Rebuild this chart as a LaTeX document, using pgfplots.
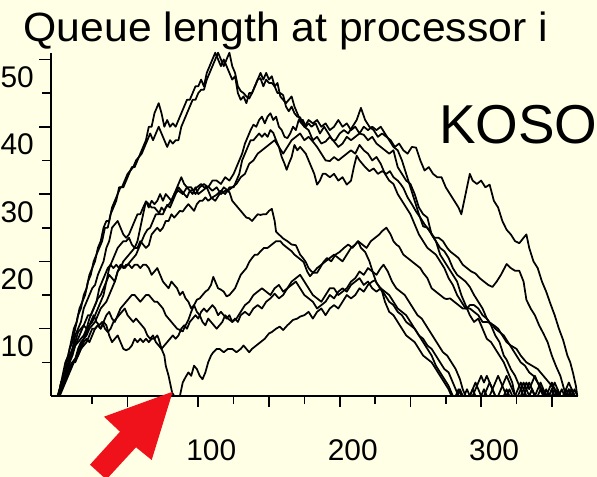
\documentclass[border=0pt]{standalone}
\usepackage{pgfplots}
\pgfplotsset{compat=1.18}
\usepackage{fontspec}
\setmainfont{Liberation Sans}
\definecolor{bg}{RGB}{255,255,230}
\definecolor{arrowred}{RGB}{240,18,26}
\pgfplotsset{qline/.style={black, line width=1.75bp, line join=round, mark=none}}
\begin{document}
\begin{tikzpicture}[x=1bp,y=1bp]
\fill[bg] (0,0) rectangle (597,477);
\useasboundingbox (0,0) rectangle (597,477);
\begin{scope}
\clip (0,0) rectangle (597,477);
\begin{axis}[
 at={(50.5bp,81bp)}, anchor=south west,
 scale only axis, width=527.5bp, height=343.3bp,
 xmin=-4.5, xmax=368.5, ymin=0, ymax=51,
 axis lines*=left, axis line style={line width=2bp, -},
 clip=false,
 xtick={50,100,...,350}, xticklabels={,100,,200,,300,},
 minor xtick={25,75,...,375},
 ytick={10,20,...,50}, yticklabels={10,20,30,40,50},
 minor ytick={5,15,...,45},
 tick align=outside,
 major tick length=11bp, minor tick length=8bp,
 tick style={line width=1.6bp, black},
 ticklabel style={font=\fontsize{30}{30}\selectfont},
 xticklabel style={anchor=north, inner sep=0pt, xshift=13bp, yshift=-32bp},
 yticklabel style={anchor=north east, inner sep=0pt, xshift=-5.5bp, yshift=-7bp},
]
% A
\addplot[qline] coordinates {(1,0)(3,2)(5,3)(7,5)(9,7)(11,8)(13,10)(15,12)(17,13)(19,15)(21,16)(23,18)(25,19)(27,20)(29,22)(31,23)(33,25)(35,26)(37,26)(39,28)(41,29)(43,30)(45,31)(47,31)(49,32)(51,33)(53,34)(55,34)(57,35)(59,36)(61,37)(63,38)(65,40)(67,40)(69,42)(71,43)(72,43.5)(74,42)(76,40)(78,41)(80,40)(82,40.5)(84,40)(86,41)(88,42)(90,43)(92,44)(94,44)(96,45)(98,46)(100,46)(102,47)(104,46)(106,48)(108,49)(110,50)(112,51)(114,50)(116,49)(118,50)(120,49)(122,48)(124,47)(126,47.5)(128,45)(130,44)(132,44.5)(134,43.5)(136,45)(138,45)(140,46)(142,47)(144,48)(146,47)(148,48)(150,47)(152,47.5)(154,46)(156,46.5)(158,44.5)(160,44)(162,43.5)(164,44)(166,44.5)(168,43)(170,42)(172,41)(174,41)(176,40)(178,40.5)(180,40)(183,40.5)(186,39)(189,40)(192,39)(195,38)(197,38)(200,39)(203,39.5)(206,39)(209,40)(212,41)(215,42.8)(218,41)(221,40)(224,39.5)(227,38.5)(230,39)(233,38.5)(236,38)(239,37)(242,37.5)(245,36.5)(248,36)(251,37)(254,36.9)(257,35)(260,33.5)(263,34)(266,33)(269,32.5)(272,32.5)(275,31)(278,30)(281,29)(284,28)(286,27)(288,29)(290,31)(292,33)(294,32)(297,31.5)(300,32)(303,31)(306,31.4)(309,29)(312,28)(315,26)(318,24.7)(321,24)(324,23)(327,22.7)(330,23.5)(332,24)(334,22)(337,20)(340,19)(343,17)(346,15.5)(349,13.7)(352,12)(355,10)(358,8.3)(361,6)(363,5)(365,3.4)(367,1.5)(368,0)};
% B
\addplot[qline] coordinates {(0.5,0)(2,1)(4,3)(6,5)(8,6)(10,8)(12,10)(14,11)(16,13)(18,14)(20,15)(22,17)(24,18)(26,20)(28,21)(30,22)(32,23)(34,25)(36,25)(38,27)(40,28)(42,29)(44,31)(46,31)(48,32)(50,33)(52,33.5)(54,34)(56,35)(58,35.5)(60,36)(62,37)(64,38)(66,39)(68,38)(70,39)(72,40)(74,39)(76,38)(78,37)(80,38)(82,37.5)(84,38)(86,38)(88,40)(90,41)(92,42)(94,43)(96,44)(98,44)(100,45)(102,45.5)(104,45.5)(106,47)(108,48)(110,49)(112,50)(114,51)(116,50)(118,49)(120,50)(122,51)(124,49)(126,48)(128,46)(130,45.3)(132,45)(134,44.5)(136,44.2)(138,45)(140,46)(142,47)(144,47.2)(146,46)(148,47)(150,46.5)(152,46.5)(154,46)(156,45)(158,45)(160,44.7)(162,43)(164,42.3)(166,43)(168,42)(170,41.5)(172,41.4)(175,40)(178,41)(181,40.5)(184,41)(187,40)(190,40.5)(193,39.5)(196,40)(199,41)(202,40)(205,40.5)(208,39.5)(211,40)(214,39)(217,40)(220,39.5)(223,40)(226,39.5)(229,40)(232,39)(235,38)(238,37)(241,36.5)(244,35)(247,33)(250,31)(253,29)(256,27)(259,25.2)(262,25)(265,24)(268,23)(271,22)(274,21.5)(277,20.5)(280,19)(283,18)(286,17.5)(289,17)(292,16.2)(295,15)(298,14)(301,13)(304,11.5)(307,10.5)(310,9)(313,8)(316,6)(318,5.4)(321,4)(324,3)(327,1.5)(330,0)(334,0)(336,1)(338,0)(346,0)(348,1)(350,2)(352,1)(354,0)(362,0)(364,1)(366,0)(368,0)};
% C
\addplot[qline] coordinates {(1,0)(3,1)(5,3)(7,4)(9,6)(11,7)(13,9)(15,10)(17,11)(19,13)(21,14)(23,15)(25,16)(27,16.5)(29,18)(31,19)(33,20)(35,22)(37,23)(39,25)(41,25.5)(43,26)(45,25)(47,24)(49,23.5)(51,24)(53,25)(55,26)(57,27)(59,27)(61,28)(63,28.9)(65,28)(67,29)(69,28.5)(71,29)(73,30)(75,29)(77,30)(79,29.5)(81,29)(83,30)(86,30.5)(89,30)(92,31)(95,31)(98,30)(101,31)(104,31.5)(107,31)(110,32)(113,32)(116,31.5)(119,32.5)(122,32)(125,33)(127,34)(129,35)(131,36)(133,37.5)(135,38.5)(137,39.5)(139,40.3)(141,40)(143,41)(145,41.5)(147,40.5)(149,41.5)(151,42)(153,41)(155,41.5)(157,40)(159,39.5)(161,38.5)(163,38.3)(165,39)(167,40)(169,39.5)(171,41)(173,40.5)(175,40)(178,39.5)(181,38)(184,38.5)(187,37.5)(190,37.8)(193,38.5)(196,37.8)(199,37)(202,37.5)(205,38.5)(208,38)(211,38.5)(214,39)(217,38.8)(220,38)(223,38.5)(226,37.5)(229,37)(232,36.5)(235,36)(238,36.5)(241,34)(244,33)(247,32)(250,31.5)(253,30)(256,28)(259,27)(262,26.5)(265,24)(268,23)(271,21)(274,20)(277,19)(280,18)(283,17)(286,15)(289,13.5)(292,12)(295,11)(298,11.5)(301,10)(304,8.5)(307,8)(310,7)(313,6)(316,5)(319,3.5)(322,2)(324,0)(328,0)(330,1)(332,2)(334,1)(336,2)(338,3)(340,2)(342,1)(344,0)(350,0)(352,1)(354,0)(358,0)(360,1)(362,0)(368,0)};
% D
\addplot[qline] coordinates {(1.5,0)(3,1)(5,2)(7,3)(9,4)(11,5)(13,5.5)(15,7)(17,8)(19,8.5)(21,9)(23,10)(25,10.5)(27,11)(29,12)(31,13)(33,13.5)(35,14)(37,15)(39,16)(41,17)(43,18.5)(45,19)(47,20)(49,20.5)(51,21)(53,21.5)(55,22)(57,22)(59,23)(61,22.5)(63,22)(65,22.4)(67,24)(69,24.5)(71,25)(73,24.5)(75,25)(77,26)(79,26)(81,27)(83,26.5)(85,27)(87,27.5)(89,27.4)(91,28)(93,28.5)(95,28)(97,27.5)(99,28.5)(101,29)(103,29)(105,29.5)(107,29)(110,29.5)(113,29.9)(116,30.5)(119,30)(122,31)(125,31)(127,32)(129,33)(131,35)(133,36)(135,37)(137,38)(139,38)(141,38.5)(143,39)(145,38.5)(147,39)(149,38.5)(151,39.5)(153,39.1)(155,38)(157,37)(159,35.5)(161,34.5)(162.5,33.6)(164,34.5)(166,35.5)(168,37.3)(170,36.5)(172,37)(174,36.5)(176,36)(178,35)(180,34)(182,33)(184,31.4)(186,32)(188,33)(190,33)(193,32.5)(196,33)(199,32)(202,32.5)(205,31.4)(208,32)(210,34)(212,35.7)(214,35)(216,34.5)(218,34)(221,33.4)(224,33.8)(227,33)(230,33.4)(233,33)(235.5,33.4)(238,32.5)(241,32)(243,31.5)(245,30.9)(248,29.5)(251,28.5)(254,27.4)(257,26.5)(260,25.5)(264,24.4)(267,23.5)(270,23.5)(273,23)(276,22)(278,21.5)(281,21)(284,20.5)(287,19.5)(290,19)(293,18.5)(296,18.2)(299,17.5)(302,17)(305,16.5)(308,16.2)(311,17)(314,18)(318,19.6)(321,19)(324,18.6)(327,18.6)(330,17)(332,14.3)(335,13)(338,12)(341,10.5)(344,9.3)(347,8)(350,6)(353,4.4)(356,3)(358,1.5)(360,0)(364,0)(366,1)(368,0)};
% E
\addplot[qline] coordinates {(0.5,0)(2,1)(4,2)(6,3)(8,4)(10,6)(12,7)(14,8)(16,9)(18,10)(20,11)(22,12)(24,12)(26,13)(28,14)(30,16)(32,17)(34,18)(36,19)(38,19.5)(40,19)(42,19.5)(44,19)(46,19.5)(48,19)(50,19.5)(52,20)(54,20.5)(56,21)(58,22)(60,23)(62,24)(64,24.7)(66,25)(68,26)(70,27)(72,27)(74,28)(76,27.5)(78,28.4)(80,28)(82,29)(84,30)(86,31)(88,30.5)(90,30)(92,29.5)(94,30.5)(96,30)(98,31)(100,30)(103,30.5)(106,31)(109,29.5)(112,29)(115,30)(118,31)(121,30.5)(124,31)(127,31.5)(130,32.5)(133,33)(136,34.5)(139,35)(142,36)(145,36.5)(148,37)(151,37.5)(154,38)(157,37)(160,36)(163,37)(166,38)(169,38.5)(172,39)(175,38)(178,38.5)(181,37.8)(184,37)(187,36)(190,35)(193,34.9)(196,35.5)(199,35)(202,35.5)(205,36)(208,36.5)(211,36)(214,37.3)(217,36.5)(220,36)(223,35)(226,35.5)(229,34.5)(232,33)(235,32)(238,31.5)(241,30)(244,29)(247,28)(250,27)(253,25.5)(256,24)(259,23)(262,22)(265,21.5)(268,21)(271,20)(274,19)(277,17.5)(280,16.5)(283,15)(286,14)(289,13)(292,13)(295,12.5)(298,12)(301,11)(304,11)(307,10.8)(310,10)(313,9.5)(316,9)(319,8)(322,7)(325,6)(328,5)(331,4.5)(334,3.5)(337,3)(340,2)(343,1)(345,0)(348,0)(350,1)(352,0)(358,0)(360,1)(362,2)(364,1)(366,0)(368,0)};
% F
\addplot[qline] coordinates {(1,0)(3,2)(5,3)(7,4)(9,5)(11,6)(13,7.5)(15,8)(17,8.5)(19,9)(21,10)(23,10.5)(25,11)(27,12)(29,13)(31,14)(33,15)(35,17)(37,19)(39,20)(41,21)(43,22)(45,22.5)(47,23)(49,23)(51,23.5)(53,22.5)(55,22)(57,23)(59,25)(61,27)(63,28.9)(65,28.5)(67,28)(69,28)(71,27.5)(73,27)(75,27)(77,28)(79,28.4)(81,29)(83,30)(85,31)(87,32)(88,32.5)(90,31.5)(92,31)(94,30.5)(96.5,30.6)(99,31)(102,31.5)(104,31)(107,31.1)(110,30.5)(113,31)(116,30)(119,30.5)(122,30.3)(124,29)(126,28.5)(128,28)(130,27.5)(132,27)(134,26.5)(136,26.4)(138,26)(140,26.5)(142,27)(144,26.9)(146,27)(148,27)(150,27.5)(152,27.8)(154,26)(155,24.4)(157,24)(160,23.4)(163,23)(166,22.5)(169,22.4)(172,21)(174,20.5)(176,19.9)(178,19)(180,18.5)(182,18.3)(184,18.3)(186,19)(188.5,19.9)(191,20.5)(194,20)(197,21)(200,21.4)(203,22)(206,22.5)(209,22)(211,22.5)(213,23)(215,22)(218,21.4)(221,20)(224,18)(226,16.8)(229,16)(232,15.5)(235,15)(238,14)(241,13)(244,12.5)(247,12)(250,11)(253,10)(256,9)(259,8)(262,7)(265,6)(268,4.5)(271,3.5)(274,2.5)(277,1.5)(280,0)(283,0)(285,1)(287,0)(292,0)(294,1)(296,2)(298,1)(300,0)(306,0)(308,1)(310,0)(318,0)(320,1)(322,0)(330,0)(332,1)(334,2)(336,1)(338,0)(344,0)(346,1)(348,0)(355,0)(357,1)(359,0)(368,0)};
% G
\addplot[qline] coordinates {(1,0)(3,1)(5,3)(7,4)(9,4.5)(11,5)(13,5.5)(15,6)(17,7)(19,7.5)(21,8)(23,9)(25,10)(27,10)(29,10.5)(31,10)(33,11)(35,12)(37,12.5)(39,11.5)(41,11)(43,12)(45,13)(47,13.5)(49,14)(51,14.5)(53,15)(55,15)(57,14.5)(59,14)(61,14.5)(63,15)(65,15)(67,14.5)(69,14)(71,14)(73,13.5)(75,13)(77,12)(79,11.5)(81,11)(83,10.5)(85,10)(87,9.8)(89,9.6)(91,10.5)(93,11.3)(95,12.5)(97,13.5)(99,14.3)(101,14.5)(103,15)(105,15.5)(107,15.8)(109,16.5)(110.6,17.7)(112,17)(114,16)(116,15.8)(118,15.5)(120,14.8)(122,15)(124,15.5)(126,16)(128,17)(130,18)(132,18.5)(134,19)(136,19.9)(138,20.5)(140,21)(142,21)(144,21.5)(146.5,22)(149,22)(152,22.5)(155,23)(158,23)(160,22.5)(163,22)(166,21.5)(168,21)(171,20.5)(174.5,19.9)(177,18.5)(179,17.8)(182,18.5)(184,19)(187,19.5)(190,20)(193,20.5)(196,21)(199,20.5)(202,20)(205,21)(208,22)(211,22.5)(213,23)(216,22.5)(219,22)(222,23)(225,23.5)(228,24)(230,24.5)(233,25)(236,24)(238,23)(240,22.5)(242,22.2)(245,21)(248,20.5)(251,20)(254,19.5)(257,19)(259,18.3)(262,17.5)(265,16)(268,15.5)(271,15)(274,14.5)(275.6,14.4)(278,14.5)(281,14)(284,13.5)(287,13)(289.8,13)(292,13.5)(295,13.5)(298,13)(301,12)(304,11.5)(306.5,10.8)(309,10.5)(312,10)(315,9)(318,8)(321,7.5)(325,7)(328,6)(332,5)(336,4.5)(340,4)(344,3)(348,2)(352,1)(356,0)(360,0)(362,1)(364,0)(368,0)};
% J (arrow line)
\addplot[qline] coordinates {(1,0)(3,1)(5,2)(7,3)(9,4)(11,5)(13,5)(15,6)(17,7)(19,8)(21,8.5)(23,8)(25,9)(27,10)(29,10.5)(31,10)(33,11)(35,10.5)(37,9)(39,8)(41,8.5)(43,9)(45,8)(47,7)(49,6.8)(51,7)(53,7.5)(55,8.5)(57,8)(59,8.5)(61,8)(63,8.5)(65,8)(67,8.5)(69,8.5)(71,9)(72,8.5)(74,7)(76,6)(77,4.5)(79,3)(80,2)(81.5,0.5)(83,0)(85,0)(87,0)(89,2)(91,2.8)(93,3.5)(95,3)(97,4.5)(99,4)(101,3)(103,2.5)(105,3.5)(107,5)(109,6)(110.6,6.5)(113,7)(115,7)(118,6.5)(121,7)(124,7)(127,6.5)(130,7)(132,7.5)(134,7)(136,6.5)(138,7)(141,7.5)(144,8)(147,8.5)(150,9.3)(152,9.5)(155,10)(157.6,10.3)(160,9.8)(163,10.5)(167,11.3)(170,11.5)(172,11.8)(175,12)(178,12.5)(181,11.5)(184,12.5)(187,13)(190,12)(193,13)(196,13.5)(199,13)(202,14)(205,15)(208,14.5)(211,15)(214,16)(217,15.5)(220,16.5)(223,17)(225,17.2)(227,16.5)(230,15.5)(232,14)(235,12.5)(238,12)(241,11)(244,10)(247,9)(250,8.5)(253,8)(256,7)(259,6)(262,5.5)(265,5)(268,4)(271,3)(274,2)(277,1)(279,0)(282,0)(284,1)(286,0)(294,0)(296,1)(298,2)(300,3)(302,2)(304,3)(306,2)(308,1)(310,0)(316,0)(318,1)(320,0)(326,0)(328,1)(330,2)(332,1)(334,0)(340,0)(342,1)(344,0)(350,0)(352,1)(354,0)(360,0)(362,1)(364,0)(368,0)};
% K
\addplot[qline] coordinates {(2,0)(4,1)(6,2)(8,3)(10,4)(12,5)(14,6)(16,7)(18,8)(20,9)(22,10)(24,11)(26,12)(28,11)(30,10.5)(32,11)(34,10)(36,9.5)(38,10)(40,11)(42,11.5)(44,12)(46,12.5)(48,13)(50,12)(52,11.5)(54,11)(56,11.5)(58,11)(60,10.5)(62,10)(64,9)(66,8.5)(68,9)(70,8)(72,7.5)(74,7)(76,7.5)(78,8)(80,8.5)(82,9)(84,8.5)(86,9)(88,10)(90,10.5)(92,10)(94,11)(96,11.5)(98,12)(100,11.5)(102,12.5)(104,13)(106,12.5)(108,13)(110,13.5)(112,13)(114,12)(116,12.5)(118,12)(120,11.5)(122,12)(124,11)(126,11.5)(128,11)(130,12)(133,12.5)(136,12)(139,13)(142,13.5)(145,13)(148,14)(151,14.5)(154,15.2)(157,14.5)(160,15)(163,16)(166,16.5)(169,17)(172,16)(175,15)(178,14.5)(181,14)(184,13)(187,13.5)(190,14)(193,15)(196,14.5)(199,15.5)(202,16)(205,15.5)(208,16.5)(211,17)(214,17.5)(217,16.5)(220,17)(223,16)(226,15.5)(229,16)(232,15)(235,14)(238,13.5)(241,12.5)(244,12)(247,11)(250,10.5)(253,10)(256,9)(259,8.5)(262,7.5)(265,7)(268,6)(271,5)(274,4)(277,3.5)(280,2)(282,1)(284,0)(288,0)(290,1)(292,0)(302,0)(304,1)(306,2)(308,1)(310,2)(312,3)(314,2)(316,1)(318,0)(324,0)(326,1)(328,2)(330,1)(332,0)(338,0)(340,1)(342,2)(344,1)(346,0)(352,0)(354,1)(356,0)(362,0)(364,1)(366,0)(368,0)};
% M
\addplot[qline] coordinates {(1.5,0)(3,1)(5,3)(7,4)(9,5)(11,7)(13,8)(15,9.5)(17,10)(19,10.5)(21,10)(23,11.5)(25,12.5)(27,13.5)(29,14.5)(31,15)(33,16)(35,17)(37,18)(39,17.5)(41,17)(43,18.5)(45,19.5)(47,19)(49,19.5)(51,19.5)(53,19)(55,19.5)(57,19.5)(59,19)(61,19.5)(63,19.5)(65,19)(67,18)(69,18.5)(71,19)(73,18)(75,17)(77,16.5)(79,16)(81,17)(83,16.5)(85,16)(87,15)(89,15.5)(91,14.5)(93,14)(95,13)(97,13.5)(99,12.5)(101,12)(103,11)(105,10.5)(107,11.5)(109,11)(111,10.5)(113,10)(115,10.5)(117,11)(119,12)(121,11.5)(124,11)(127,11.5)(130,12.5)(133,13.5)(136,14)(139,15)(142,15.5)(145,16)(148,15.5)(151,15)(154,16)(157,16.5)(160,15.5)(163,16)(166,17)(169,17.5)(172,18)(175,17)(178,16)(181,15)(184,14.5)(187,14)(190,15)(193,16)(196,16)(199,15)(202,15.5)(205,16)(208,17)(211,17.5)(214,18.5)(217,18)(220,19)(223,18.5)(226,18)(229,19)(231,19.5)(234,18.5)(237,17)(240,16)(243,15.5)(246,15)(249,14)(252,13)(255,12)(258,11.5)(261,10.5)(264,9.5)(267,8.5)(270,7.5)(273,6.5)(276,6)(279,5)(282,4)(285,2.5)(287,1)(289,0)(292,0)(294,1)(296,0)(300,0)(302,1)(304,0)(312,0)(314,1)(316,2)(318,3)(320,2)(322,1)(324,0)(334,0)(336,1)(338,0)(348,0)(350,1)(352,2)(354,1)(356,0)(362,0)(364,1)(366,0)(368,0)};
\end{axis}
\fill[arrowred] (172.7,85.3) -- (104,60.3) -- (120,45.3) -- (90,12.3) -- (106.3,-2.5) -- (136,29.7) -- (151.7,17) -- cycle;
\end{scope}
\node[anchor=base west, inner sep=0pt] at (23.4,435) {\fontsize{41}{41}\selectfont\scalebox{1.045}[1]{Queue length at processor i}};
\node[anchor=base west, inner sep=0pt] at (439,333.7) {\fontsize{55}{55}\selectfont KOSO};
\end{tikzpicture}
\end{document}
